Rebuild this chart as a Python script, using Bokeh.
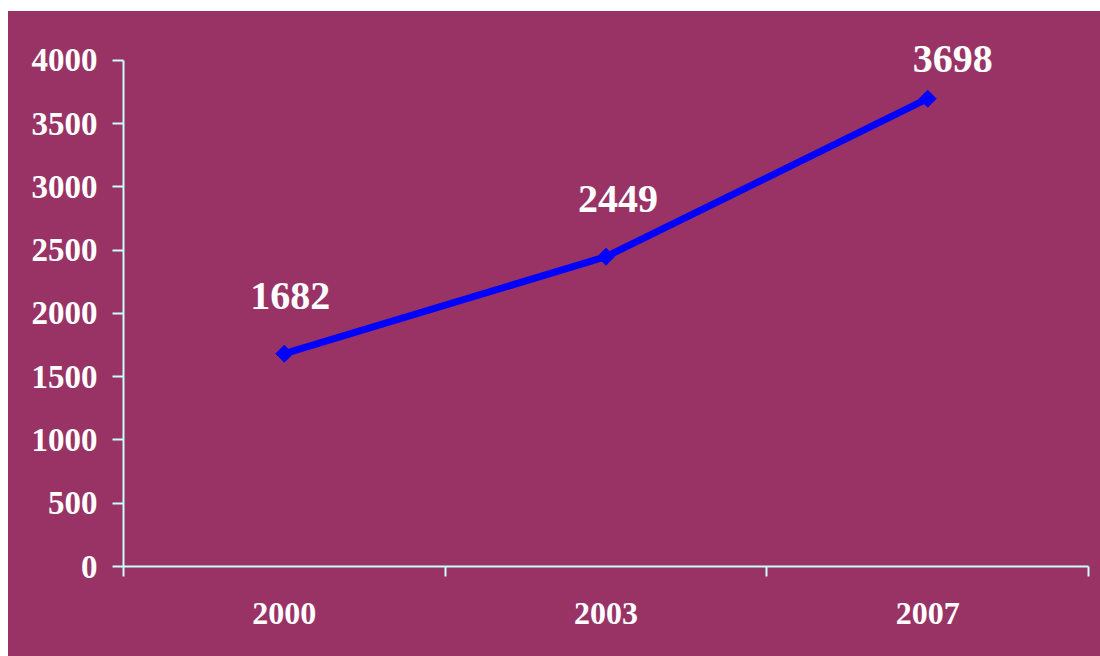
from bokeh.plotting import figure
from bokeh.models import ColumnDataSource, FixedTicker, Range1d
from bokeh.core.properties import value
from bokeh.embed import file_html
from bokeh.resources import INLINE
import math

# Data
years = ["2000", "2003", "2007"]
counts = [1682, 2449, 3698]
y_ticks = [0, 500, 1000, 1500, 2000, 2500, 3000, 3500, 4000]

PURPLE = "#993366"
AXIS = "#CCFFFF"
FONT = "Liberation Serif"

# Each year sits in the middle of its own slot on a numeric x scale
xs = [i + 0.5 for i in range(len(years))]
source = ColumnDataSource(data=dict(x=xs, y=counts, label=[str(c) for c in counts],
                                    dx=[6, 12, 25], dy=[-58, -58, -40]))

# headroom above 4000 keeps the top value label inside the frame
p = figure(width=1092, height=645, margin=(11, 0, 0, 8),
           x_range=Range1d(0, len(years)), y_range=Range1d(0, 4300),
           output_backend="svg", toolbar_location=None,
           min_border_left=115, min_border_right=12,
           min_border_top=11, min_border_bottom=90)

# one solid colour behind the whole canvas, frame included
p.styles = {"background-color": PURPLE}
p.background_fill_color = PURPLE
p.border_fill_color = PURPLE
p.outline_line_color = None
p.xgrid.visible = False
p.ygrid.visible = False

# x axis: labels at slot centres, tick marks at slot boundaries
p.xaxis.ticker = FixedTicker(ticks=xs, minor_ticks=list(range(len(years) + 1)))
p.xaxis.major_label_overrides = {x: y for x, y in zip(xs, years)}
p.xaxis.major_tick_out = 0
p.xaxis.major_tick_in = 0
p.xaxis.minor_tick_out = 10
p.xaxis.minor_tick_in = 0
p.xaxis.major_label_standoff = 26

p.yaxis.ticker = FixedTicker(ticks=y_ticks, minor_ticks=[])
p.yaxis.bounds = (0, 4000)
p.yaxis.major_tick_out = 11
p.yaxis.major_tick_in = 0
p.yaxis.minor_tick_out = 0
p.yaxis.minor_tick_in = 0
p.yaxis.major_label_standoff = 15

for ax in (p.xaxis, p.yaxis):
    ax.axis_line_color = AXIS
    ax.axis_line_width = 2
    ax.major_tick_line_color = AXIS
    ax.major_tick_line_width = 2
    ax.minor_tick_line_color = AXIS
    ax.minor_tick_line_width = 2
    ax.major_label_text_color = "white"
    ax.major_label_text_font = FONT
    ax.major_label_text_font_style = "bold"

p.yaxis.major_label_text_font_size = "33px"
p.xaxis.major_label_text_font_size = "32px"

p.line("x", "y", source=source, line_color="#0000FF", line_width=7)
# square turned on its corner gives the diamond point markers
p.scatter("x", "y", source=source, marker="square", angle=math.pi / 4, size=12,
          fill_color="#0000FF", line_color="#0000FF")

p.text("x", "y", text="label", source=source, x_offset="dx", y_offset="dy",
       text_font=value(FONT), text_font_style="bold", text_font_size="40px",
       text_color="white", text_align="center", text_baseline="middle")

open("out.html", "w").write(file_html(p, INLINE))
